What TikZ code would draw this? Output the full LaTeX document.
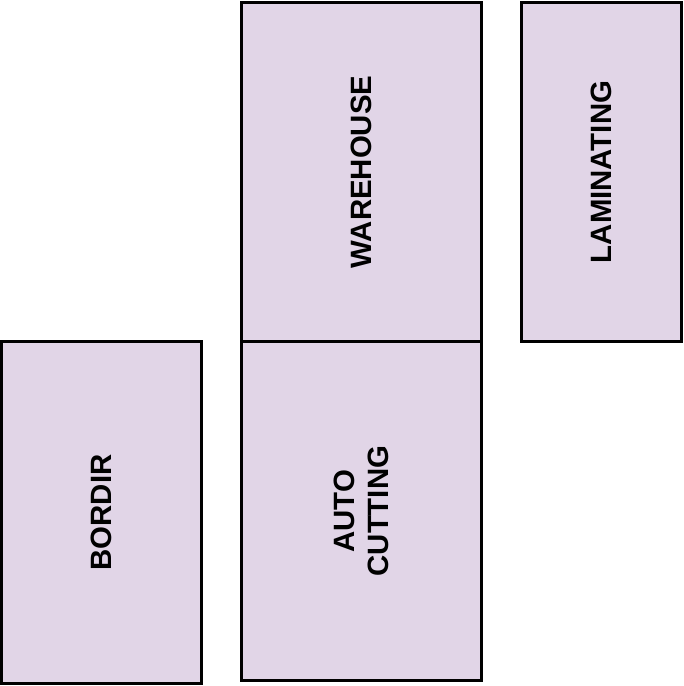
\documentclass[tikz,border=0pt]{standalone}
\usepackage{fontspec}
\setmainfont{Liberation Sans}
\definecolor{boxfill}{HTML}{E1D5E7}
\begin{document}
\begin{tikzpicture}[x=1bp,y=1bp,
  room/.style={draw=black, fill=boxfill, line width=2.9bp, rectangle, rotate=90,
    inner sep=0pt, outer sep=0pt, align=center,
    font=\fontsize{29.5}{34}\selectfont\bfseries}]
\useasboundingbox (0,0) rectangle (684,686);
\node[room, minimum width=339bp, minimum height=240bp] (warehouse) at (361.5,514) {WAREHOUSE};
\node[room, minimum width=339bp, minimum height=160bp] (laminating) at (601.5,514) {LAMINATING};
\node[room, minimum width=339.2bp, minimum height=240bp] (autocutting) at (361.5,174.9) {AUTO\\CUTTING};
\node[room, minimum width=342bp, minimum height=200bp] (bordir) at (101.5,173.5) {BORDIR};
\end{tikzpicture}
\end{document}
